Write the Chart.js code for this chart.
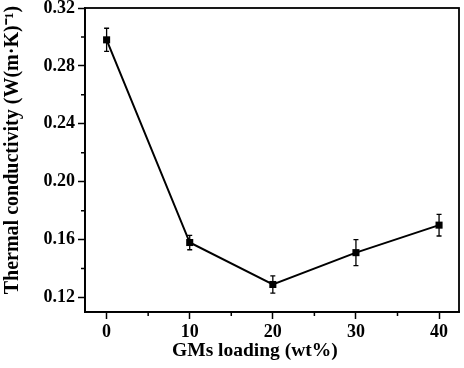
<!DOCTYPE html>
<html>
<head>
<meta charset="utf-8">
<script src="https://cdn.jsdelivr.net/npm/chart.js@4.4.1/dist/chart.umd.min.js"></script>
<style>
  html, body { margin: 0; padding: 0; background: #fff; }
  #wrap { width: 464px; height: 368px; }
</style>
</head>
<body>
<div id="wrap"><canvas id="grafico"></canvas></div>
<script>
// dados
const loading = [0, 10, 20, 30, 40];
const conductivity = [0.298, 0.158, 0.129, 0.151, 0.170];
const errorBars = [0.008, 0.005, 0.006, 0.009, 0.0075];

const xMajorTicks = [0, 10, 20, 30, 40];
const xMinorTicks = [5, 15, 25, 35];
const yMajorTicks = [0.12, 0.16, 0.20, 0.24, 0.28, 0.32];
const yMinorTicks = [0.14, 0.18, 0.22, 0.26, 0.30];

const fonte = 'Liberation Serif, Times New Roman, serif';

// barras de erro, ticks menores e moldura
const extras = {
    id: 'extras',
    afterDatasetsDraw(chart) {
        const ctx = chart.ctx;
        const xs = chart.scales.x;
        const ys = chart.scales.y;
        ctx.save();
        ctx.strokeStyle = '#000';
        ctx.lineWidth = 1.3;
        loading.forEach((v, i) => {
            const x = xs.getPixelForValue(v);
            const yTop = ys.getPixelForValue(conductivity[i] + errorBars[i]);
            const yBot = ys.getPixelForValue(conductivity[i] - errorBars[i]);
            ctx.beginPath();
            ctx.moveTo(x, yTop); ctx.lineTo(x, yBot);
            ctx.moveTo(x - 2.5, yTop); ctx.lineTo(x + 2.5, yTop);
            ctx.moveTo(x - 2.5, yBot); ctx.lineTo(x + 2.5, yBot);
            ctx.stroke();
        });
        const area = chart.chartArea;
        ctx.lineWidth = 1.5;
        ctx.beginPath();
        xMinorTicks.forEach(v => {
            const x = xs.getPixelForValue(v);
            ctx.moveTo(x, area.bottom); ctx.lineTo(x, area.bottom + 4);
        });
        yMinorTicks.forEach(v => {
            const y = ys.getPixelForValue(v);
            ctx.moveTo(area.left, y); ctx.lineTo(area.left - 4, y);
        });
        ctx.stroke();
        ctx.lineWidth = 1.8;
        ctx.strokeRect(area.left, area.top, area.right - area.left, area.bottom - area.top);
        ctx.restore();
    }
};

const ctx = document.getElementById('grafico').getContext('2d');

new Chart(ctx, {
    type: 'line',
    data: {
        datasets: [{
            data: loading.map((v, i) => ({ x: v, y: conductivity[i] })),
            borderColor: '#000',
            backgroundColor: '#000',
            borderWidth: 2,
            pointStyle: 'rect',
            pointRadius: 5,
            pointBorderWidth: 0,
            fill: false,
            tension: 0,
        }]
    },
    options: {
        responsive: true,
        maintainAspectRatio: false,
        animation: false,
        layout: { padding: { top: 8, right: 3, left: 0, bottom: 0 } },
        plugins: {
            legend: { display: false },
            tooltip: { enabled: false },
        },
        scales: {
            x: {
                type: 'linear',
                min: -2.6,
                max: 42.4,
                afterBuildTicks: scale => { scale.ticks = xMajorTicks.map(v => ({ value: v })); },
                afterFit: scale => { scale.height = 56; },
                grid: { drawOnChartArea: false, tickLength: 7, tickWidth: 1.5, tickColor: '#000' },
                border: { color: '#000', width: 1.8 },
                ticks: {
                    color: '#000',
                    padding: 3,
                    maxRotation: 0,
                    font: { family: fonte, size: 18, weight: 'bold' },
                },
                title: {
                    display: true,
                    // espaços no fim deslocam o título para a esquerda, como no original
                    text: 'GMs loading (wt%)       ',
                    color: '#000',
                    padding: { top: 0, bottom: 5 },
                    font: { family: fonte, size: 19.5, weight: 'bold' },
                },
            },
            y: {
                min: 0.11,
                max: 0.32,
                afterBuildTicks: scale => { scale.ticks = yMajorTicks.map(v => ({ value: v })); },
                afterFit: scale => {
                    scale.width = 85;
                    scale.paddingTop = 0;
                    scale.paddingBottom = 0;
                },
                grid: { drawOnChartArea: false, tickLength: 7, tickWidth: 1.5, tickColor: '#000' },
                border: { color: '#000', width: 1.8 },
                ticks: {
                    color: '#000',
                    padding: 3,
                    callback: v => v.toFixed(2),
                    font: { family: fonte, size: 18, weight: 'bold' },
                },
                title: {
                    display: true,
                    text: '    Thermal conductivity (W(m\u00B7K)\u207B\u00B9)',
                    color: '#000',
                    padding: { top: 1, bottom: 0 },
                    font: { family: fonte, size: 20, weight: 'bold' },
                },
            }
        }
    },
    plugins: [extras]
});
</script>
</body>
</html>
